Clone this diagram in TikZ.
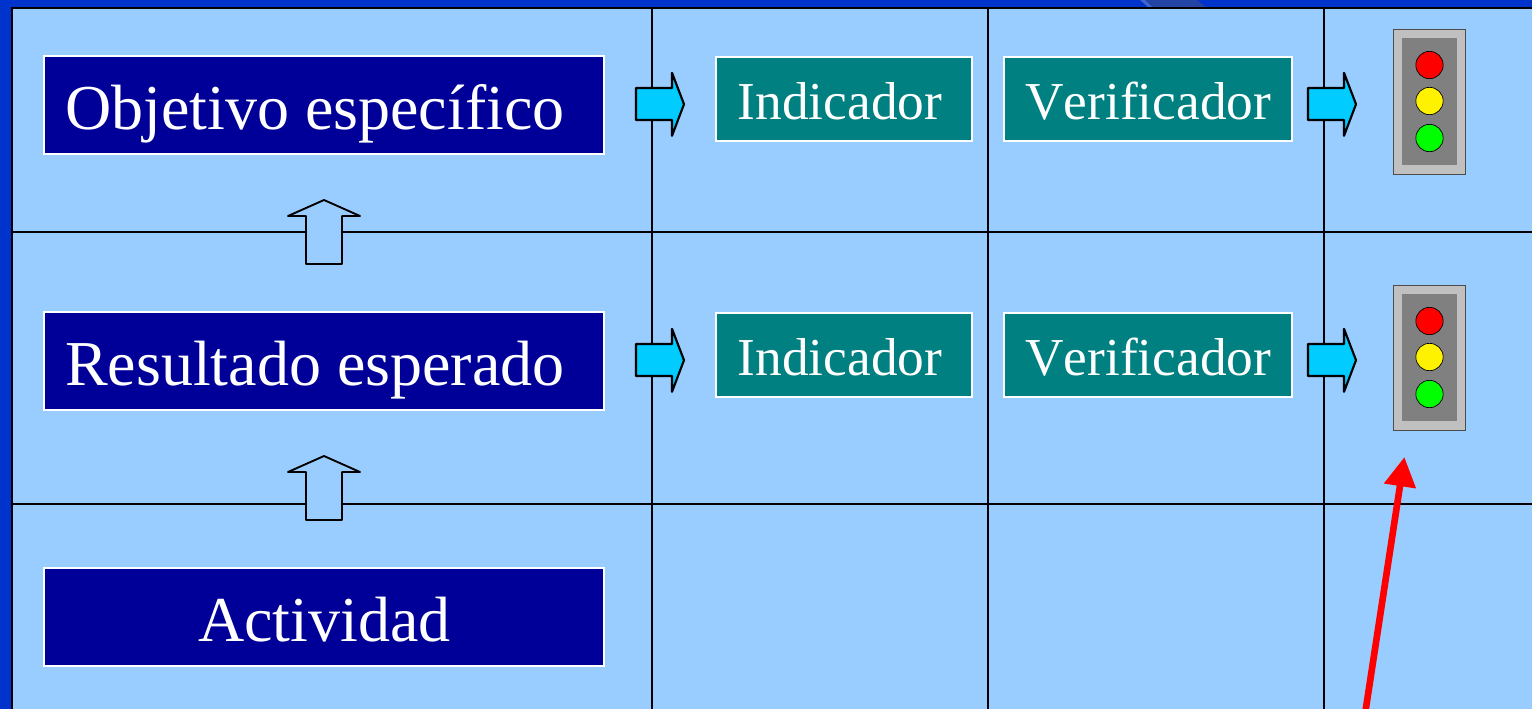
\documentclass[tikz,border=0pt]{standalone}
\usepackage{fontspec}
\setmainfont[Kerning=Off,Ligatures=NoCommon]{Liberation Serif}
\usetikzlibrary{arrows.meta}
\definecolor{slidebg}{HTML}{0033CC}
\definecolor{swoosh}{HTML}{2343A5}
\definecolor{swooshlight}{HTML}{3F66D0}
\definecolor{cellblue}{HTML}{99CCFF}
\definecolor{navybox}{HTML}{000099}
\definecolor{tealbox}{HTML}{008080}
\definecolor{cyanarrow}{HTML}{00CCFF}
\definecolor{lightgray}{HTML}{C0C0C0}
\definecolor{midgray}{HTML}{808080}
\tikzset{
  gridline/.style={draw=black,line width=1.2pt},
  bigbox/.style={draw=white,fill=navybox,text=white,line width=1.3pt,inner sep=0pt,
    minimum width=420pt,minimum height=73.5pt,font=\fontsize{48}{48}\selectfont,
    text height=36pt,text depth=0pt},
  leftbox/.style={bigbox,text width=388.5pt,align=flush left},
  smallbox/.style={draw=white,fill=tealbox,text=white,line width=1.3pt,inner sep=0pt,
    minimum height=63.2pt,font=\fontsize{40}{40}\selectfont,
    text height=30.2pt,text depth=0pt},
  upblock/.style={draw=black,fill=cellblue,line width=1.4pt,line join=round},
  rightblock/.style={draw=black,fill=cyanarrow,line width=1.6pt,line join=round},
  lighthouse/.style={draw=black!70,fill=lightgray,line width=.8pt,inner sep=0pt,
    minimum width=54pt,minimum height=109pt},
  lightpanel/.style={fill=midgray,inner sep=0pt,minimum width=41.25pt,minimum height=95.25pt},
  lamp/.style={circle,draw=black,line width=.5pt,inner sep=0pt,minimum size=20.5pt},
  redarrow/.style={draw=red,line width=5pt,-{Triangle[length=22pt,width=23pt,fill=red]}}
}
\begin{document}
\begin{tikzpicture}[x=0.75pt,y=-0.75pt]
\useasboundingbox (0,0) rectangle (1532,708);
\clip (-5,-5) rectangle (1545,725);
\fill[slidebg] (-5,-5) rectangle (1545,725);
% decoration of the slide, at the top
\fill[swoosh] (1145,0) -- (1197,0) -- (1207,8) -- (1153,8) -- cycle;
\fill[swooshlight] (1140,0) -- (1145,0) -- (1153,8) -- (1149,8) -- cycle;
% table
\fill[cellblue] (12,8) rectangle (1545,725);
\draw[gridline] (12,725) -- (12,8) -- (1545,8);
\draw[gridline] (12,232) -- (1545,232);
\draw[gridline] (12,504) -- (1545,504);
\draw[gridline] (652,8) -- (652,725);
\draw[gridline] (988,8) -- (988,725);
\draw[gridline] (1324,8) -- (1324,725);
% main boxes
\node[leftbox] (obj) at (324.2,105.3) {Objetivo específico};
\node[leftbox] (res) at (324.2,361.3) {Resultado esperado};
\node[bigbox] (act) at (324.2,617.3) {Actividad};
% up arrows
\draw[upblock] (324,200) -- (360,216) -- (342,216) -- (342,264) -- (306,264) -- (306,216) -- (288,216) -- cycle;
\draw[upblock] (324,456) -- (360,472) -- (342,472) -- (342,520) -- (306,520) -- (306,472) -- (288,472) -- cycle;
% right arrows
\draw[rightblock] (636,88) -- (672,88) -- (672,72.8) -- (684,104.2) -- (672,135.8) -- (672,120) -- (636,120) -- cycle;
\draw[rightblock] (636,344) -- (672,344) -- (672,328.8) -- (684,360.2) -- (672,391.8) -- (672,376) -- (636,376) -- cycle;
\draw[rightblock] (1308,88) -- (1344,88) -- (1344,72.8) -- (1356,104.2) -- (1344,135.8) -- (1344,120) -- (1308,120) -- cycle;
\draw[rightblock] (1308,344) -- (1344,344) -- (1344,328.8) -- (1356,360.2) -- (1344,391.8) -- (1344,376) -- (1308,376) -- cycle;
% teal boxes
\node[smallbox,minimum width=192pt] (ind1) at (844,99) {\hspace*{-6pt}Indicador};
\node[smallbox,minimum width=216pt] (ver1) at (1148.3,99) {Verificador};
\node[smallbox,minimum width=192pt] (ind2) at (844,355) {\hspace*{-6pt}Indicador};
\node[smallbox,minimum width=216pt] (ver2) at (1148.3,355) {Verificador};
% traffic lights
\node[lighthouse] (tl1) at (1429.8,102) {};
\node[lightpanel] (tp1) at (1429.5,101.5) {};
\node[lamp,fill=red] (r1) at (1429.5,65) {};
\node[lamp,fill=yellow] (y1) at (1429.5,101) {};
\node[lamp,fill=green] (g1) at (1429.5,138) {};
\node[lighthouse] (tl2) at (1429.8,358) {};
\node[lightpanel] (tp2) at (1429.5,357.5) {};
\node[lamp,fill=red] (r2) at (1429.5,321) {};
\node[lamp,fill=yellow] (y2) at (1429.5,357) {};
\node[lamp,fill=green] (g2) at (1429.5,394) {};
% red arrow
\coordinate (redstart) at (1362.9,728);
\coordinate (redend) at (1404.4,457);
\draw[redarrow] (redstart) -- (redend);
\end{tikzpicture}
\end{document}
